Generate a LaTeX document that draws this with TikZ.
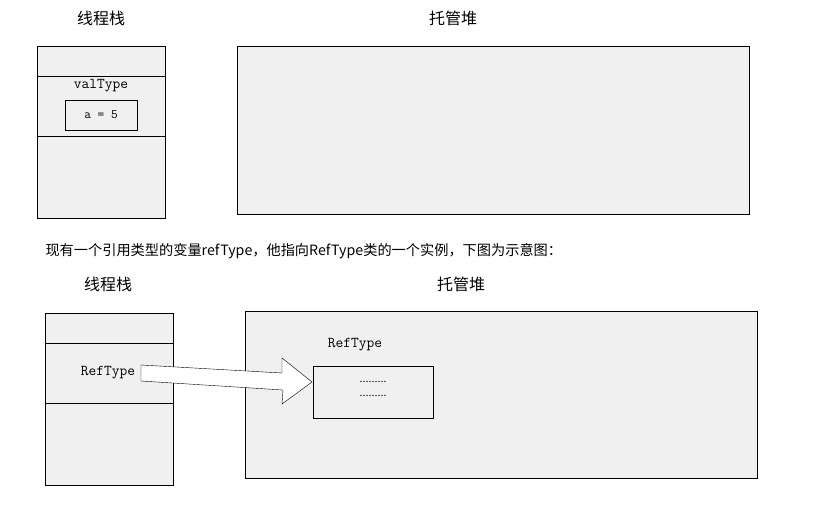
\documentclass[tikz,border=0pt]{standalone}
\usepackage{fontspec}
\newfontfamily\cjk{Noto Sans CJK SC}
\newfontfamily\serifA{Liberation Serif}
\definecolor{boxgray}{HTML}{F0F0F0}
\tikzset{
  panel/.style={draw=black,fill=boxgray},
  caption/.style={font=\cjk\fontsize{16}{18}\selectfont},
  code/.style={font=\fontsize{15}{17}\selectfont\ttfamily},
  smallcode/.style={font=\fontsize{13}{15}\selectfont\ttfamily},
}
\begin{document}
\begin{tikzpicture}[x=1pt,y=-1pt]
    \useasboundingbox[fill=white] (0,0) rectangle (837,505);
    % Upper picture
    \node[caption] (stackA) at (101,18) {线程栈};
    \node[caption] (heapA) at (453,18) {托管堆};
    \draw[panel] (37,46) rectangle (165,218);
    \draw (37,76) -- (165,76);
    \draw (37,136) -- (165,136);
    \node[code] (valtype) at (101,86) {valType};
    \draw[panel] (65,100) rectangle (137,130);
    \node[smallcode] (aval) at (101,115) {a = 5};
    \draw[panel] (237,46) rectangle (749,214);

    % Sentence
    \node[anchor=west,font=\cjk\fontsize{14.2}{16}\selectfont] (note) at (42,251)
      {现有一个引用类型的变量refType，他指向RefType类的一个实例，下图为示意图：};

    % Lower picture
    \node[caption] (stackB) at (108,284) {线程栈};
    \node[caption] (heapB) at (461,284) {托管堆};
    \draw[panel] (45,313) rectangle (173,485);
    \draw (45,343) -- (173,343);
    \draw (45,403) -- (173,403);
    \node[code] (refvar) at (108,373) {RefType};
    \draw[panel] (245,311) rectangle (757,478);
    \node[code] (refobj) at (355,345) {RefType};
    \draw[panel] (313,366) rectangle (433,418);
    \node[font=\serifA\fontsize{12}{14}\selectfont] (dots1) at (373,382) {.........};
    \node[font=\serifA\fontsize{12}{14}\selectfont] (dots2) at (373,396) {.........};
    % Block arrow
    \draw[fill=white] (141,365) -- (282,373) -- (282,358) -- (312,382)
      -- (282,404) -- (283,390) -- (141,381) -- cycle;
\end{tikzpicture}
\end{document}
